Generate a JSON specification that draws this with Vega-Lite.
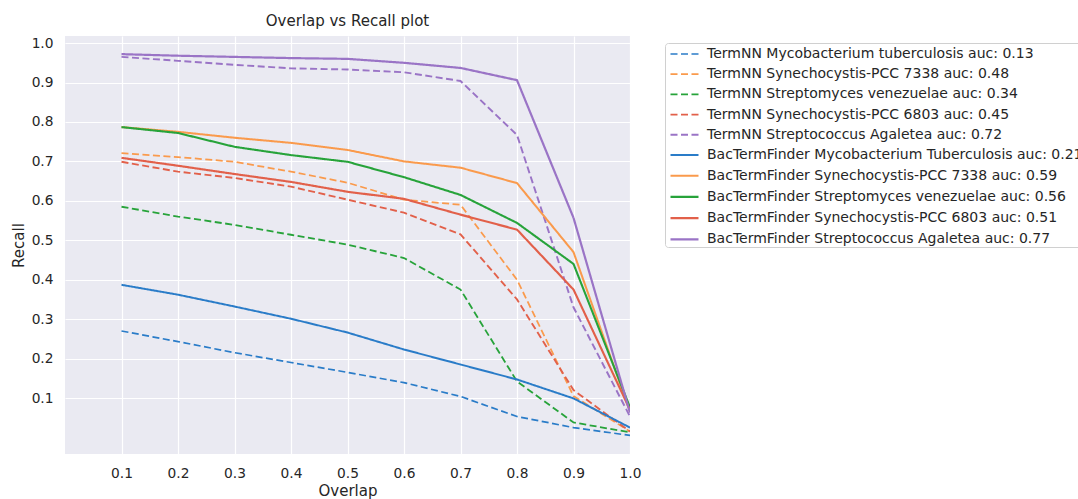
{
  "$schema": "https://vega.github.io/schema/vega-lite/v6.json",
  "width": 565,
  "height": 418,
  "autosize": "none",
  "padding": {"left": 65, "top": 36, "right": 448, "bottom": 45},
  "background": "white",
  "title": {"text": "Overlap vs Recall plot", "font": "DejaVu Sans", "fontSize": 15, "fontWeight": "normal", "color": "#262626", "anchor": "middle", "offset": 7},
  "config": {
    "view": {"fill": "#EAEAF2", "stroke": null},
    "axis": {"domain": false, "ticks": false, "grid": true, "gridColor": "white", "gridWidth": 1.2, "labelFont": "DejaVu Sans", "labelFontSize": 13.75, "labelColor": "#262626", "titleFont": "DejaVu Sans", "titleFontSize": 15, "titleFontWeight": "normal", "titleColor": "#262626"}
  },
  "data": {"values": [
    {"series": "TermNN Mycobacterium tuberculosis auc: 0.13", "overlap": 0.1, "recall": 0.270},
    {"series": "TermNN Mycobacterium tuberculosis auc: 0.13", "overlap": 0.2, "recall": 0.243},
    {"series": "TermNN Mycobacterium tuberculosis auc: 0.13", "overlap": 0.3, "recall": 0.215},
    {"series": "TermNN Mycobacterium tuberculosis auc: 0.13", "overlap": 0.4, "recall": 0.190},
    {"series": "TermNN Mycobacterium tuberculosis auc: 0.13", "overlap": 0.5, "recall": 0.165},
    {"series": "TermNN Mycobacterium tuberculosis auc: 0.13", "overlap": 0.6, "recall": 0.139},
    {"series": "TermNN Mycobacterium tuberculosis auc: 0.13", "overlap": 0.7, "recall": 0.104},
    {"series": "TermNN Mycobacterium tuberculosis auc: 0.13", "overlap": 0.8, "recall": 0.053},
    {"series": "TermNN Mycobacterium tuberculosis auc: 0.13", "overlap": 0.9, "recall": 0.025},
    {"series": "TermNN Mycobacterium tuberculosis auc: 0.13", "overlap": 1.0, "recall": 0.005},
    {"series": "TermNN Synechocystis-PCC 7338 auc: 0.48", "overlap": 0.1, "recall": 0.721},
    {"series": "TermNN Synechocystis-PCC 7338 auc: 0.48", "overlap": 0.2, "recall": 0.711},
    {"series": "TermNN Synechocystis-PCC 7338 auc: 0.48", "overlap": 0.3, "recall": 0.699},
    {"series": "TermNN Synechocystis-PCC 7338 auc: 0.48", "overlap": 0.4, "recall": 0.674},
    {"series": "TermNN Synechocystis-PCC 7338 auc: 0.48", "overlap": 0.5, "recall": 0.646},
    {"series": "TermNN Synechocystis-PCC 7338 auc: 0.48", "overlap": 0.6, "recall": 0.603},
    {"series": "TermNN Synechocystis-PCC 7338 auc: 0.48", "overlap": 0.7, "recall": 0.590},
    {"series": "TermNN Synechocystis-PCC 7338 auc: 0.48", "overlap": 0.8, "recall": 0.400},
    {"series": "TermNN Synechocystis-PCC 7338 auc: 0.48", "overlap": 0.9, "recall": 0.105},
    {"series": "TermNN Synechocystis-PCC 7338 auc: 0.48", "overlap": 1.0, "recall": 0.015},
    {"series": "TermNN Streptomyces venezuelae auc: 0.34", "overlap": 0.1, "recall": 0.585},
    {"series": "TermNN Streptomyces venezuelae auc: 0.34", "overlap": 0.2, "recall": 0.560},
    {"series": "TermNN Streptomyces venezuelae auc: 0.34", "overlap": 0.3, "recall": 0.539},
    {"series": "TermNN Streptomyces venezuelae auc: 0.34", "overlap": 0.4, "recall": 0.514},
    {"series": "TermNN Streptomyces venezuelae auc: 0.34", "overlap": 0.5, "recall": 0.489},
    {"series": "TermNN Streptomyces venezuelae auc: 0.34", "overlap": 0.6, "recall": 0.455},
    {"series": "TermNN Streptomyces venezuelae auc: 0.34", "overlap": 0.7, "recall": 0.375},
    {"series": "TermNN Streptomyces venezuelae auc: 0.34", "overlap": 0.8, "recall": 0.142},
    {"series": "TermNN Streptomyces venezuelae auc: 0.34", "overlap": 0.9, "recall": 0.038},
    {"series": "TermNN Streptomyces venezuelae auc: 0.34", "overlap": 1.0, "recall": 0.013},
    {"series": "TermNN Synechocystis-PCC 6803 auc: 0.45", "overlap": 0.1, "recall": 0.699},
    {"series": "TermNN Synechocystis-PCC 6803 auc: 0.45", "overlap": 0.2, "recall": 0.674},
    {"series": "TermNN Synechocystis-PCC 6803 auc: 0.45", "overlap": 0.3, "recall": 0.658},
    {"series": "TermNN Synechocystis-PCC 6803 auc: 0.45", "overlap": 0.4, "recall": 0.636},
    {"series": "TermNN Synechocystis-PCC 6803 auc: 0.45", "overlap": 0.5, "recall": 0.603},
    {"series": "TermNN Synechocystis-PCC 6803 auc: 0.45", "overlap": 0.6, "recall": 0.570},
    {"series": "TermNN Synechocystis-PCC 6803 auc: 0.45", "overlap": 0.7, "recall": 0.515},
    {"series": "TermNN Synechocystis-PCC 6803 auc: 0.45", "overlap": 0.8, "recall": 0.350},
    {"series": "TermNN Synechocystis-PCC 6803 auc: 0.45", "overlap": 0.9, "recall": 0.120},
    {"series": "TermNN Synechocystis-PCC 6803 auc: 0.45", "overlap": 1.0, "recall": 0.015},
    {"series": "TermNN Streptococcus Agaletea auc: 0.72", "overlap": 0.1, "recall": 0.965},
    {"series": "TermNN Streptococcus Agaletea auc: 0.72", "overlap": 0.2, "recall": 0.955},
    {"series": "TermNN Streptococcus Agaletea auc: 0.72", "overlap": 0.3, "recall": 0.945},
    {"series": "TermNN Streptococcus Agaletea auc: 0.72", "overlap": 0.4, "recall": 0.936},
    {"series": "TermNN Streptococcus Agaletea auc: 0.72", "overlap": 0.5, "recall": 0.933},
    {"series": "TermNN Streptococcus Agaletea auc: 0.72", "overlap": 0.6, "recall": 0.926},
    {"series": "TermNN Streptococcus Agaletea auc: 0.72", "overlap": 0.7, "recall": 0.904},
    {"series": "TermNN Streptococcus Agaletea auc: 0.72", "overlap": 0.8, "recall": 0.767},
    {"series": "TermNN Streptococcus Agaletea auc: 0.72", "overlap": 0.9, "recall": 0.330},
    {"series": "TermNN Streptococcus Agaletea auc: 0.72", "overlap": 1.0, "recall": 0.053},
    {"series": "BacTermFinder Mycobacterium Tuberculosis auc: 0.21", "overlap": 0.1, "recall": 0.387},
    {"series": "BacTermFinder Mycobacterium Tuberculosis auc: 0.21", "overlap": 0.2, "recall": 0.362},
    {"series": "BacTermFinder Mycobacterium Tuberculosis auc: 0.21", "overlap": 0.3, "recall": 0.332},
    {"series": "BacTermFinder Mycobacterium Tuberculosis auc: 0.21", "overlap": 0.4, "recall": 0.301},
    {"series": "BacTermFinder Mycobacterium Tuberculosis auc: 0.21", "overlap": 0.5, "recall": 0.266},
    {"series": "BacTermFinder Mycobacterium Tuberculosis auc: 0.21", "overlap": 0.6, "recall": 0.223},
    {"series": "BacTermFinder Mycobacterium Tuberculosis auc: 0.21", "overlap": 0.7, "recall": 0.185},
    {"series": "BacTermFinder Mycobacterium Tuberculosis auc: 0.21", "overlap": 0.8, "recall": 0.147},
    {"series": "BacTermFinder Mycobacterium Tuberculosis auc: 0.21", "overlap": 0.9, "recall": 0.099},
    {"series": "BacTermFinder Mycobacterium Tuberculosis auc: 0.21", "overlap": 1.0, "recall": 0.025},
    {"series": "BacTermFinder Synechocystis-PCC 7338 auc: 0.59", "overlap": 0.1, "recall": 0.787},
    {"series": "BacTermFinder Synechocystis-PCC 7338 auc: 0.59", "overlap": 0.2, "recall": 0.775},
    {"series": "BacTermFinder Synechocystis-PCC 7338 auc: 0.59", "overlap": 0.3, "recall": 0.760},
    {"series": "BacTermFinder Synechocystis-PCC 7338 auc: 0.59", "overlap": 0.4, "recall": 0.747},
    {"series": "BacTermFinder Synechocystis-PCC 7338 auc: 0.59", "overlap": 0.5, "recall": 0.729},
    {"series": "BacTermFinder Synechocystis-PCC 7338 auc: 0.59", "overlap": 0.6, "recall": 0.700},
    {"series": "BacTermFinder Synechocystis-PCC 7338 auc: 0.59", "overlap": 0.7, "recall": 0.684},
    {"series": "BacTermFinder Synechocystis-PCC 7338 auc: 0.59", "overlap": 0.8, "recall": 0.645},
    {"series": "BacTermFinder Synechocystis-PCC 7338 auc: 0.59", "overlap": 0.9, "recall": 0.470},
    {"series": "BacTermFinder Synechocystis-PCC 7338 auc: 0.59", "overlap": 1.0, "recall": 0.065},
    {"series": "BacTermFinder Streptomyces venezuelae auc: 0.56", "overlap": 0.1, "recall": 0.787},
    {"series": "BacTermFinder Streptomyces venezuelae auc: 0.56", "overlap": 0.2, "recall": 0.772},
    {"series": "BacTermFinder Streptomyces venezuelae auc: 0.56", "overlap": 0.3, "recall": 0.737},
    {"series": "BacTermFinder Streptomyces venezuelae auc: 0.56", "overlap": 0.4, "recall": 0.716},
    {"series": "BacTermFinder Streptomyces venezuelae auc: 0.56", "overlap": 0.5, "recall": 0.699},
    {"series": "BacTermFinder Streptomyces venezuelae auc: 0.56", "overlap": 0.6, "recall": 0.660},
    {"series": "BacTermFinder Streptomyces venezuelae auc: 0.56", "overlap": 0.7, "recall": 0.615},
    {"series": "BacTermFinder Streptomyces venezuelae auc: 0.56", "overlap": 0.8, "recall": 0.544},
    {"series": "BacTermFinder Streptomyces venezuelae auc: 0.56", "overlap": 0.9, "recall": 0.440},
    {"series": "BacTermFinder Streptomyces venezuelae auc: 0.56", "overlap": 1.0, "recall": 0.076},
    {"series": "BacTermFinder Synechocystis-PCC 6803 auc: 0.51", "overlap": 0.1, "recall": 0.709},
    {"series": "BacTermFinder Synechocystis-PCC 6803 auc: 0.51", "overlap": 0.2, "recall": 0.689},
    {"series": "BacTermFinder Synechocystis-PCC 6803 auc: 0.51", "overlap": 0.3, "recall": 0.668},
    {"series": "BacTermFinder Synechocystis-PCC 6803 auc: 0.51", "overlap": 0.4, "recall": 0.648},
    {"series": "BacTermFinder Synechocystis-PCC 6803 auc: 0.51", "overlap": 0.5, "recall": 0.623},
    {"series": "BacTermFinder Synechocystis-PCC 6803 auc: 0.51", "overlap": 0.6, "recall": 0.605},
    {"series": "BacTermFinder Synechocystis-PCC 6803 auc: 0.51", "overlap": 0.7, "recall": 0.565},
    {"series": "BacTermFinder Synechocystis-PCC 6803 auc: 0.51", "overlap": 0.8, "recall": 0.527},
    {"series": "BacTermFinder Synechocystis-PCC 6803 auc: 0.51", "overlap": 0.9, "recall": 0.375},
    {"series": "BacTermFinder Synechocystis-PCC 6803 auc: 0.51", "overlap": 1.0, "recall": 0.070},
    {"series": "BacTermFinder Streptococcus Agaletea auc: 0.77", "overlap": 0.1, "recall": 0.972},
    {"series": "BacTermFinder Streptococcus Agaletea auc: 0.77", "overlap": 0.2, "recall": 0.968},
    {"series": "BacTermFinder Streptococcus Agaletea auc: 0.77", "overlap": 0.3, "recall": 0.965},
    {"series": "BacTermFinder Streptococcus Agaletea auc: 0.77", "overlap": 0.4, "recall": 0.962},
    {"series": "BacTermFinder Streptococcus Agaletea auc: 0.77", "overlap": 0.5, "recall": 0.960},
    {"series": "BacTermFinder Streptococcus Agaletea auc: 0.77", "overlap": 0.6, "recall": 0.950},
    {"series": "BacTermFinder Streptococcus Agaletea auc: 0.77", "overlap": 0.7, "recall": 0.937},
    {"series": "BacTermFinder Streptococcus Agaletea auc: 0.77", "overlap": 0.8, "recall": 0.906},
    {"series": "BacTermFinder Streptococcus Agaletea auc: 0.77", "overlap": 0.9, "recall": 0.557},
    {"series": "BacTermFinder Streptococcus Agaletea auc: 0.77", "overlap": 1.0, "recall": 0.063}
  ]},
  "mark": {"type": "line", "clip": true},
  "encoding": {
    "x": {"field": "overlap", "type": "quantitative", "title": "Overlap",
      "scale": {"domain": [0, 1.0], "nice": false, "zero": false},
      "axis": {"values": [0.1,0.2,0.3,0.4,0.5,0.6,0.7,0.8,0.9,1.0], "format": ".1f", "labelPadding": 12, "titlePadding": 4, "labelFlush": false}},
    "y": {"field": "recall", "type": "quantitative", "title": "Recall",
      "scale": {"domain": [-0.042, 1.018], "nice": false, "zero": false},
      "axis": {"values": [0.1,0.2,0.3,0.4,0.5,0.6,0.7,0.8,0.9,1.0], "format": ".1f", "labelPadding": 12, "titlePadding": 5, "labelFlush": false}},
    "color": {"field": "series", "type": "nominal", "title": null,
      "scale": {
        "domain": [
          "TermNN Mycobacterium tuberculosis auc: 0.13",
          "TermNN Synechocystis-PCC 7338 auc: 0.48",
          "TermNN Streptomyces venezuelae auc: 0.34",
          "TermNN Synechocystis-PCC 6803 auc: 0.45",
          "TermNN Streptococcus Agaletea auc: 0.72",
          "BacTermFinder Mycobacterium Tuberculosis auc: 0.21",
          "BacTermFinder Synechocystis-PCC 7338 auc: 0.59",
          "BacTermFinder Streptomyces venezuelae auc: 0.56",
          "BacTermFinder Synechocystis-PCC 6803 auc: 0.51",
          "BacTermFinder Streptococcus Agaletea auc: 0.77"],
        "range": ["#2a7cc8", "#fa9a4c", "#27a33a", "#e2604a", "#9a74c6", "#2a7cc8", "#fa9a4c", "#27a33a", "#e2604a", "#9a74c6"]},
      "legend": {"orient": "none", "legendX": 600, "legendY": 7, "symbolType": "M-0.6,0H2.2", "symbolSize": 400, "labelFont": "DejaVu Sans", "labelFontSize": 14, "labelColor": "#262626", "labelLimit": 600, "labelOffset": 19, "rowPadding": 2.2, "padding": 0, "fillColor": "white", "strokeColor": "#d0d0d0", "cornerRadius": 3, "symbolOpacity": 1}},
    "strokeDash": {"field": "series", "type": "nominal", "title": null,
      "scale": {
        "domain": [
          "TermNN Mycobacterium tuberculosis auc: 0.13",
          "TermNN Synechocystis-PCC 7338 auc: 0.48",
          "TermNN Streptomyces venezuelae auc: 0.34",
          "TermNN Synechocystis-PCC 6803 auc: 0.45",
          "TermNN Streptococcus Agaletea auc: 0.72",
          "BacTermFinder Mycobacterium Tuberculosis auc: 0.21",
          "BacTermFinder Synechocystis-PCC 7338 auc: 0.59",
          "BacTermFinder Streptomyces venezuelae auc: 0.56",
          "BacTermFinder Synechocystis-PCC 6803 auc: 0.51",
          "BacTermFinder Streptococcus Agaletea auc: 0.77"],
        "range": [[7, 3.5], [7, 3.5], [7, 3.5], [7, 3.5], [7, 3.5], [1, 0], [1, 0], [1, 0], [1, 0], [1, 0]]}},
    "strokeWidth": {"field": "series", "type": "nominal", "title": null,
      "scale": {
        "domain": [
          "TermNN Mycobacterium tuberculosis auc: 0.13",
          "TermNN Synechocystis-PCC 7338 auc: 0.48",
          "TermNN Streptomyces venezuelae auc: 0.34",
          "TermNN Synechocystis-PCC 6803 auc: 0.45",
          "TermNN Streptococcus Agaletea auc: 0.72",
          "BacTermFinder Mycobacterium Tuberculosis auc: 0.21",
          "BacTermFinder Synechocystis-PCC 7338 auc: 0.59",
          "BacTermFinder Streptomyces venezuelae auc: 0.56",
          "BacTermFinder Synechocystis-PCC 6803 auc: 0.51",
          "BacTermFinder Streptococcus Agaletea auc: 0.77"],
        "range": [1.7, 2.2, 1.6, 2.4, 2.0, 2.0, 2.8, 1.8, 3.0, 2.2]}}
  }
}
